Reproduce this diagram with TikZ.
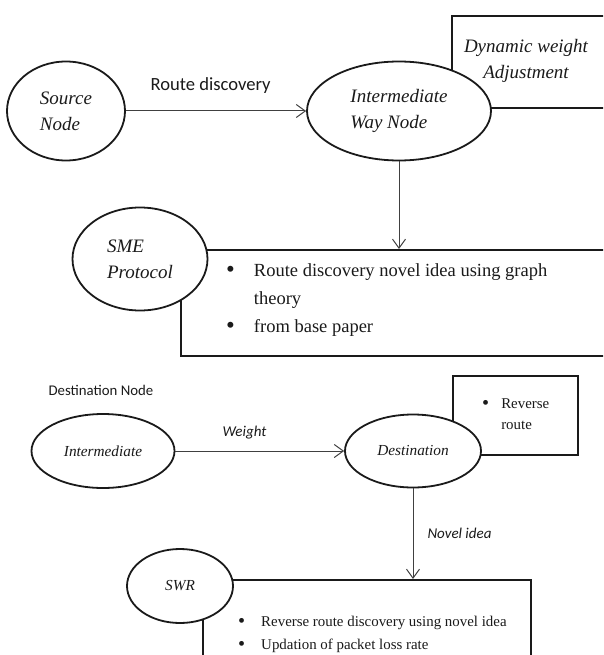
\documentclass[tikz,border=0pt]{standalone}
\usepackage{fontspec}
\setmainfont{Liberation Serif}
\newfontfamily\calib{Carlito}
\usetikzlibrary{arrows.meta, positioning, shapes.geometric}
\definecolor{cInk}{HTML}{1A1A1A}
\definecolor{cLink}{HTML}{404040}
\tikzset{
  oval/.style={ellipse, draw=cInk, line width=1.8pt, fill=white, inner sep=0pt,
    align=left, text=cInk},
  panel/.style={rectangle, draw=cInk, line width=1.8pt, fill=white, inner sep=0pt, anchor=north west},
  bullets/.style={inner sep=0pt, anchor=base west, text=cInk},
  flow/.style={-{Straight Barb[length=9pt, width=13pt]}, draw=cLink, line width=1pt},
  tag/.style={inner sep=1pt, text=cInk},
}
\newcommand{\bigit}{\itshape\fontsize{19}{26}\selectfont}
\newcommand{\smallit}{\itshape\fontsize{15.3}{20}\selectfont}
\newcommand{\bdot}{\raisebox{-0.08em}{\scalebox{1.35}{\textbullet}}}

\begin{document}
\begin{tikzpicture}[x=1pt, y=-1pt]
\path[use as bounding box, clip] (0,0) rectangle (603,655);
% upper diagram: boxes first
\node[panel, minimum width=220pt, minimum height=92pt] (dyn) at (451,15) {};
\node[panel, minimum width=440pt, minimum height=106pt] (smebox) at (180,249) {};
\node[tag, align=center, font=\bigit] (dyntxt) at (526,61) {Dynamic weight\\Adjustment};
\node[bullets, font=\fontsize{18.5}{28}\selectfont] (smetxt) at (226,276)
  {\begin{tabular}[t]{@{}l@{\hspace{19pt}}l@{}}
   \bdot & Route discovery novel idea using graph\\
         & theory\\
   \bdot & from base paper
   \end{tabular}};
% upper diagram: ovals
\node[oval, font=\bigit, minimum width=118pt, minimum height=99pt] (src) at (66,111) {Source\\Node};
\node[oval, font=\bigit, minimum width=184pt, minimum height=99pt] (mid) at (399,111) {Intermediate\\Way Node};
\node[oval, font=\bigit, minimum width=135pt, minimum height=103pt] (sme) at (140,259) {SME\\Protocol};
\draw[flow] (src.east) -- (mid.west)
  node[tag, pos=0.47, yshift=25pt, font=\calib\fontsize{18.6}{22}\selectfont]{Route discovery};
\draw[flow] (mid.south) -- (mid.south |- smebox.north);
% lower diagram: boxes first
\node[tag, font=\calib\fontsize{14.8}{18}\selectfont] (dstnote) at (101,390) {Destination Node};
\node[panel, minimum width=125pt, minimum height=79pt] (rev) at (452,375) {};
\node[panel, minimum width=328pt, minimum height=120pt] (swrbox) at (202,579) {};
\node[bullets, font=\fontsize{14.9}{21}\selectfont] (revtxt) at (482,408)
  {\begin{tabular}[t]{@{}l@{\hspace{12pt}}l@{}}
   \bdot & Reverse\\
         & route
   \end{tabular}};
\node[bullets, font=\fontsize{14.9}{23}\selectfont] (swrtxt) at (238,626)
  {\begin{tabular}[t]{@{}l@{\hspace{16pt}}l@{}}
   \bdot & Reverse route discovery using novel idea\\
   \bdot & Updation of packet loss rate
   \end{tabular}};
% lower diagram: ovals
\node[oval, font=\smallit, minimum width=143pt, minimum height=74pt] (imd) at (103,451) {Intermediate};
\node[oval, font=\smallit, minimum width=136pt, minimum height=73pt] (dst) at (413,451) {Destination};
\node[oval, font=\smallit, minimum width=106pt, minimum height=74pt] (swr) at (180,586) {SWR};
\draw[flow] (imd.east) -- (dst.west)
  node[tag, pos=0.41, yshift=18pt, font=\calib\itshape\fontsize{15}{18}\selectfont]{Weight};
\draw[flow] (dst.south) -- (dst.south |- swrbox.north)
  node[tag, midway, anchor=west, xshift=13pt, font=\calib\itshape\fontsize{15}{18}\selectfont]{Novel idea};
\end{tikzpicture}
\end{document}
